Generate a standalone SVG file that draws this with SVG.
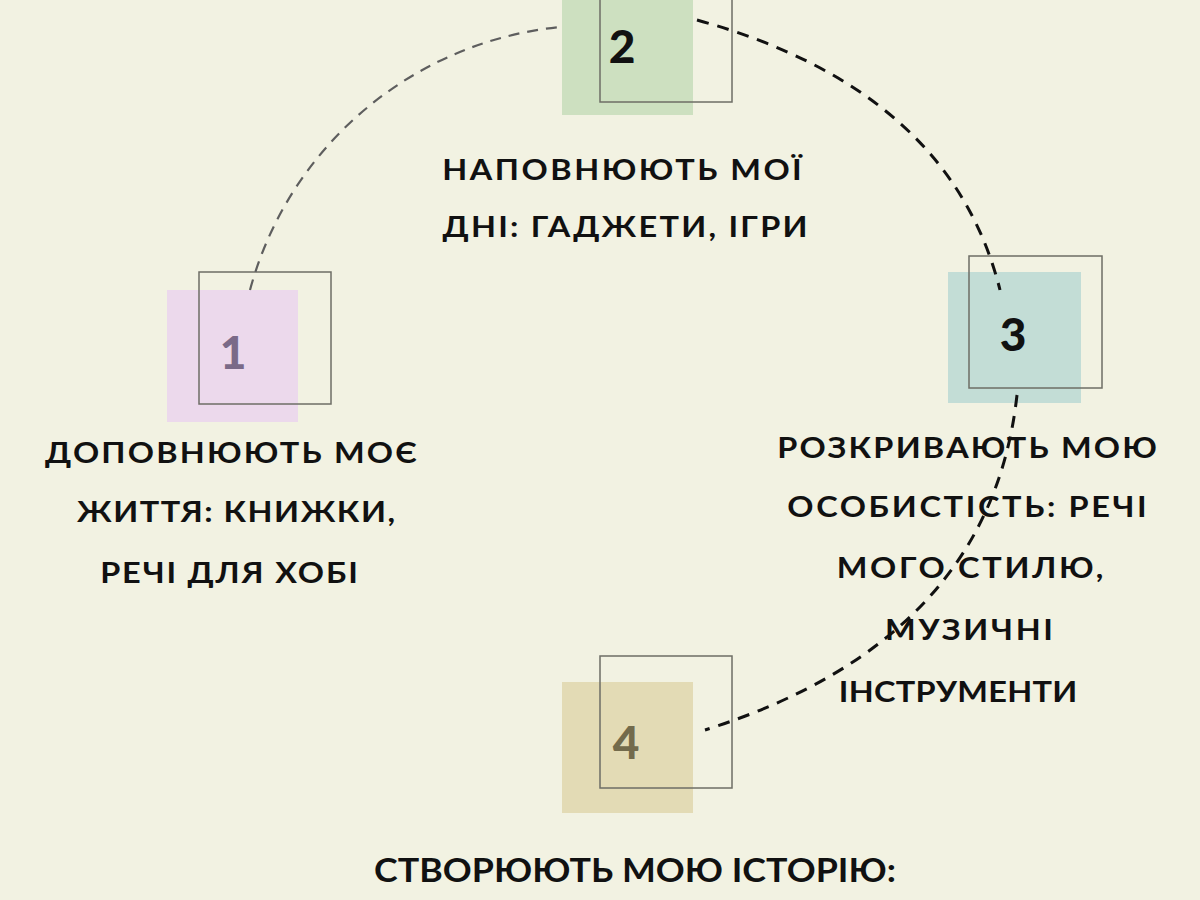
<svg xmlns="http://www.w3.org/2000/svg" width="1200" height="900" viewBox="0 0 1200 900">
<style>
.lbl{font-family:Lato,"Open Sans","Liberation Sans",sans-serif;font-weight:700;font-size:29px;fill:#111;text-anchor:middle}
.num{font-family:Lato,"Open Sans","Liberation Sans",sans-serif;font-weight:900;font-size:46px;text-anchor:middle}
.frame{fill:none;stroke:#6e6e66;stroke-width:1.5}
.c1{fill:none;stroke:#5e5e5e;stroke-width:2.2;stroke-dasharray:11 8}
.c2{fill:none;stroke:#111;stroke-width:3;stroke-dasharray:12 9}
</style>
<rect width="1200" height="900" fill="#f2f2e2"/>
<g id="node1">
<rect x="167" y="290" width="131" height="132" fill="#ecd9ec"/>
<rect class="frame" x="199" y="272" width="132" height="132"/>
<text class="num" x="233" y="369" fill="#7a6a88">1</text>
<text class="lbl" transform="translate(231,463) scale(1.12,1)" textLength="332" lengthAdjust="spacing">ДОПОВНЮЮТЬ МОЄ</text>
<text class="lbl" transform="translate(236,522) scale(1.12,1)" textLength="284" lengthAdjust="spacing">ЖИТТЯ: КНИЖКИ,</text>
<text class="lbl" transform="translate(229,583) scale(1.12,1)" textLength="230" lengthAdjust="spacing">РЕЧІ ДЛЯ ХОБІ</text>
</g>
<g id="node2">
<rect x="562" y="-17" width="131" height="132" fill="#cde0c0"/>
<rect class="frame" x="600" y="-30" width="132" height="132"/>
<text class="num" x="622" y="63" fill="#111">2</text>
<text class="lbl" transform="translate(622,180) scale(1.12,1)" textLength="321" lengthAdjust="spacing">НАПОВНЮЮТЬ МОЇ</text>
<text class="lbl" transform="translate(625,237) scale(1.12,1)" textLength="326" lengthAdjust="spacing">ДНІ: ГАДЖЕТИ, ІГРИ</text>
</g>
<g id="node3">
<rect x="948" y="272" width="133" height="131" fill="#c3ddd6"/>
<rect class="frame" x="969" y="256" width="133" height="132"/>
<text class="num" x="1013" y="351" fill="#111">3</text>
<text class="lbl" transform="translate(967,458) scale(1.12,1)" textLength="339" lengthAdjust="spacing">РОЗКРИВАЮТЬ МОЮ</text>
<text class="lbl" transform="translate(967,517) scale(1.12,1)" textLength="321" lengthAdjust="spacing">ОСОБИСТІСТЬ: РЕЧІ</text>
<text class="lbl" transform="translate(970,578) scale(1.12,1)" textLength="238" lengthAdjust="spacing">МОГО СТИЛЮ,</text>
<text class="lbl" transform="translate(969,640) scale(1.12,1)" textLength="150" lengthAdjust="spacing">МУЗИЧНІ</text>
<text class="lbl" transform="translate(958,702) scale(1.12,1)" textLength="213" lengthAdjust="spacing">ІНСТРУМЕНТИ</text>
</g>
<g id="node4">
<rect x="562" y="682" width="131" height="131" fill="#e3dbb5"/>
<rect class="frame" x="600" y="656" width="132" height="132"/>
<text class="num" x="626" y="759" fill="#736b4c">4</text>
<text class="lbl" transform="translate(635,882) scale(1.12,1)" style="font-size:32px" textLength="466" lengthAdjust="spacing">СТВОРЮЮТЬ МОЮ ІСТОРІЮ:</text>
</g>
<g id="connectors">
<path class="c1" d="M250,290 A358,358 0 0 1 560,27"/>
<path class="c2" d="M697,20 Q950,90 1000,290"/>
<path class="c2" d="M1017,395 Q990,640 705,730"/>
</g>
</svg>
